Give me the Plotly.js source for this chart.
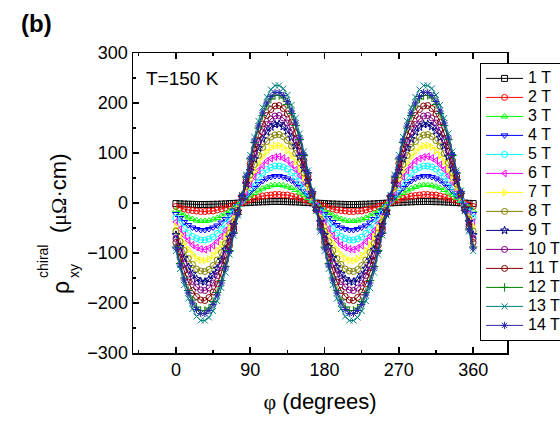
<!DOCTYPE html>
<html>
<head>
<meta charset="utf-8">
<script src="https://cdn.plot.ly/plotly-3.0.1.min.js"></script>
<style>html,body{margin:0;padding:0;background:#fff;}#chart{width:560px;height:425px;}</style>
</head>
<body>
<div id="chart"></div>
<script>
// angle phi in degrees
const phi = [0,5,10,15,20,25,30,35,40,45,50,55,60,65,70,75,80,85,90,95,100,105,110,115,120,125,130,135,140,145,150,155,160,165,170,175,180,185,190,195,200,205,210,215,220,225,230,235,240,245,250,255,260,265,270,275,280,285,290,295,300,305,310,315,320,325,330,335,340,345,350,355,360];

const seriesNames = ['1 T','2 T','3 T','4 T','5 T','6 T','7 T','8 T','9 T','10 T','11 T','12 T','13 T','14 T'];

const rho1T = [-1.2,-1.7,-2.1,-2.4,-2.7,-2.9,-3.0,-3.0,-2.9,-2.7,-2.5,-2.2,-1.8,-1.3,-0.8,-0.3,0.2,0.7,
1.2,1.7,2.1,2.4,2.7,2.9,3.0,3.0,2.9,2.7,2.5,2.2,1.8,1.3,0.8,0.3,-0.2,-0.7,
-1.2,-1.7,-2.1,-2.4,-2.7,-2.9,-3.0,-3.0,-2.9,-2.7,-2.5,-2.2,-1.8,-1.3,-0.8,-0.3,0.2,0.7,
1.2,1.7,2.1,2.4,2.7,2.9,3.0,3.0,2.9,2.7,2.5,2.2,1.8,1.3,0.8,0.3,-0.2,-0.7,-1.2];

const rho2T = [-7,-10,-12,-14,-15,-16,-17,-17,-16,-16,-14,-12,-10,-7,-5,-2,1,4,
7,10,12,14,15,16,17,17,16,16,14,12,10,7,5,2,-1,-4,
-7,-10,-12,-14,-15,-16,-17,-17,-16,-16,-14,-12,-10,-7,-5,-2,1,4,
7,10,12,14,15,16,17,17,16,16,14,12,10,7,5,2,-1,-4,-7];

const rho3T = [-15,-20,-25,-29,-32,-35,-36,-36,-35,-33,-30,-26,-21,-16,-10,-4,3,9,
15,20,25,29,32,35,36,36,35,33,30,26,21,16,10,4,-3,-9,
-15,-20,-25,-29,-32,-35,-36,-36,-35,-33,-30,-26,-21,-16,-10,-4,3,9,
15,20,25,29,32,35,36,36,35,33,30,26,21,16,10,4,-3,-9,-15];

const rho4T = [-22,-30,-38,-44,-49,-52,-54,-54,-52,-49,-45,-39,-32,-24,-15,-6,4,13,
22,30,38,44,49,52,54,54,52,49,45,39,32,24,15,6,-4,-13,
-22,-30,-38,-44,-49,-52,-54,-54,-52,-49,-45,-39,-32,-24,-15,-6,4,13,
22,30,38,44,49,52,54,54,52,49,45,39,32,24,15,6,-4,-13,-22];

const rho5T = [-30,-41,-51,-60,-67,-71,-74,-74,-72,-68,-61,-53,-43,-32,-20,-8,5,18,
30,41,51,60,67,71,74,74,72,68,61,53,43,32,20,8,-5,-18,
-30,-41,-51,-60,-67,-71,-74,-74,-72,-68,-61,-53,-43,-32,-20,-8,5,18,
30,41,51,60,67,71,74,74,72,68,61,53,43,32,20,8,-5,-18,-30];

const rho6T = [-38,-52,-65,-75,-84,-89,-92,-93,-90,-85,-77,-67,-55,-41,-26,-10,6,22,
38,52,65,75,84,89,92,93,90,85,77,67,55,41,26,10,-6,-22,
-38,-52,-65,-75,-84,-89,-92,-93,-90,-85,-77,-67,-55,-41,-26,-10,6,22,
38,52,65,75,84,89,92,93,90,85,77,67,55,41,26,10,-6,-22,-38];

const rho7T = [-47,-64,-80,-93,-103,-111,-114,-115,-112,-105,-95,-83,-68,-50,-32,-12,8,28,
47,64,80,93,103,111,114,115,112,105,95,83,68,50,32,12,-8,-28,
-47,-64,-80,-93,-103,-111,-114,-115,-112,-105,-95,-83,-68,-50,-32,-12,8,28,
47,64,80,93,103,111,114,115,112,105,95,83,68,50,32,12,-8,-28,-47];

const rho8T = [-56,-77,-95,-111,-123,-132,-136,-137,-133,-125,-114,-99,-81,-60,-38,-14,10,33,
56,77,95,111,123,132,136,137,133,125,114,99,81,60,38,14,-10,-33,
-56,-77,-95,-111,-123,-132,-136,-137,-133,-125,-114,-99,-81,-60,-38,-14,10,33,
56,77,95,111,123,132,136,137,133,125,114,99,81,60,38,14,-10,-33,-56];

const rho9T = [-64,-88,-110,-128,-142,-152,-157,-158,-153,-144,-131,-114,-93,-69,-44,-17,11,38,
64,88,110,128,142,152,157,158,153,144,131,114,93,69,44,17,-11,-38,
-64,-88,-110,-128,-142,-152,-157,-158,-153,-144,-131,-114,-93,-69,-44,-17,11,38,
64,88,110,128,142,152,157,158,153,144,131,114,93,69,44,17,-11,-38,-64];

const rho10T = [-71,-98,-122,-142,-157,-168,-174,-175,-170,-160,-145,-126,-103,-77,-48,-18,12,42,
71,98,122,142,157,168,174,175,170,160,145,126,103,77,48,18,-12,-42,
-71,-98,-122,-142,-157,-168,-174,-175,-170,-160,-145,-126,-103,-77,-48,-18,12,42,
71,98,122,142,157,168,174,175,170,160,145,126,103,77,48,18,-12,-42,-71];

const rho11T = [-79,-109,-135,-158,-175,-187,-194,-195,-189,-178,-162,-140,-115,-85,-54,-20,14,47,
79,109,135,158,175,187,194,195,189,178,162,140,115,85,54,20,-14,-47,
-79,-109,-135,-158,-175,-187,-194,-195,-189,-178,-162,-140,-115,-85,-54,-20,14,47,
79,109,135,158,175,187,194,195,189,178,162,140,115,85,54,20,-14,-47,-79];

const rho12T = [-88,-121,-150,-175,-194,-208,-215,-215,-210,-197,-179,-155,-127,-95,-60,-23,15,52,
88,121,150,175,194,208,215,215,210,197,179,155,127,95,60,23,-15,-52,
-88,-121,-150,-175,-194,-208,-215,-215,-210,-197,-179,-155,-127,-95,-60,-23,15,52,
88,121,150,175,194,208,215,215,210,197,179,155,127,95,60,23,-15,-52,-88];

const rho13T = [-96,-132,-164,-191,-212,-227,-235,-235,-229,-216,-196,-170,-139,-103,-65,-25,16,57,
96,132,164,191,212,227,235,235,229,216,196,170,139,103,65,25,-16,-57,
-96,-132,-164,-191,-212,-227,-235,-235,-229,-216,-196,-170,-139,-103,-65,-25,16,57,
96,132,164,191,212,227,235,235,229,216,196,170,139,103,65,25,-16,-57,-96];

const rho14T = [-90,-124,-154,-180,-200,-213,-221,-221,-215,-203,-184,-160,-130,-97,-61,-23,15,54,
90,124,154,180,200,213,221,221,215,203,184,160,130,97,61,23,-15,-54,
-90,-124,-154,-180,-200,-213,-221,-221,-215,-203,-184,-160,-130,-97,-61,-23,15,54,
90,124,154,180,200,213,221,221,215,203,184,160,130,97,61,23,-15,-54,-90];

const seriesValues = [rho1T,rho2T,rho3T,rho4T,rho5T,rho6T,rho7T,rho8T,rho9T,rho10T,rho11T,rho12T,rho13T,rho14T];

const colors = ['#000000','#ff0000','#00ff00','#0000ff','#00ffff','#ff00ff','#ffff00','#808000','#000080','#800080','#800000','#008000','#008080','#2a2aaa'];
const symbols = ['square-open','circle-open','triangle-up-open','triangle-down-open','circle-open','triangle-left-open','triangle-right-open','circle-open','star-open','circle-open','circle-open','cross-thin-open','x-thin-open','asterisk-open'];

const traces = seriesNames.map((n, i) => ({
  x: phi,
  y: seriesValues[i],
  type: 'scatter',
  mode: 'lines+markers',
  name: '<span style="font-size:16px">' + n + '</span>',
  line: {color: colors[i], width: 1},
  marker: {symbol: symbols[i], size: 6, color: colors[i], line: {color: colors[i], width: 1}}
}));

const fontFam = 'Arial, "Liberation Sans", sans-serif';
const serif = "'Liberation Serif', 'DejaVu Serif', serif";

// plot area in pixels: left 133, right 507, top 53, bottom 353
const px = v => (v - 133) / 374;
const py = v => (353 - v) / 300;

const layout = {
  width: 560, height: 425,
  margin: {l: 133, r: 53, t: 53, b: 72, autoexpand: false},
  paper_bgcolor: '#fff', plot_bgcolor: '#fff',
  font: {family: fontFam, color: '#000', size: 18},
  showlegend: true,
  legend: {
    x: 0.928, y: 0.967, xanchor: 'left', yanchor: 'top',
    bgcolor: '#fff', bordercolor: '#000', borderwidth: 1,
    font: {family: fontFam, size: 12, color: '#000'},
    itemwidth: 37,
    tracegroupgap: 0
  },
  xaxis: {
    range: [-52, 401], tick0: 0, dtick: 90,
    ticks: 'inside', ticklen: 6, tickwidth: 1.5, tickcolor: '#000',
    showline: true, linecolor: '#000', linewidth: 1.5, mirror: 'ticks',
    showgrid: false, zeroline: false,
    minor: {ticks: 'inside', dtick: 45, tick0: 0, ticklen: 3, tickwidth: 1.2, tickcolor: '#000', showgrid: false},
    tickfont: {size: 18},
    title: {text: '<span style="font-family:' + serif + '">φ</span> (degrees)', font: {size: 22}, standoff: 14}
  },
  yaxis: {
    range: [-300, 300], tick0: 0, dtick: 100,
    ticks: 'inside', ticklen: 6, tickwidth: 1.5, tickcolor: '#000',
    showline: true, linecolor: '#000', linewidth: 1.5, mirror: 'ticks',
    showgrid: false, zeroline: false,
    minor: {ticks: 'inside', dtick: 50, tick0: 0, ticklen: 3, tickwidth: 1.2, tickcolor: '#000', showgrid: false},
    tickfont: {size: 18}
  },
  annotations: [
    {text: '<b>(b)</b>', xref: 'paper', yref: 'paper', x: px(19), y: py(24), xanchor: 'left', yanchor: 'middle', showarrow: false, font: {size: 24, family: fontFam}},
    {text: 'T=150 K', xref: 'paper', yref: 'paper', x: px(144), y: py(78), xanchor: 'left', yanchor: 'middle', showarrow: false, font: {size: 19, family: fontFam}},
    // y-axis title: rho with stacked sub/superscript, then unit
    {text: 'ρ', xref: 'paper', yref: 'paper', x: px(61), y: py(288), xanchor: 'center', yanchor: 'middle', textangle: -90, showarrow: false, font: {size: 23, family: fontFam}},
    {text: 'xy', xref: 'paper', yref: 'paper', x: px(74), y: py(271), xanchor: 'center', yanchor: 'middle', textangle: -90, showarrow: false, font: {size: 14, family: fontFam}},
    {text: 'chiral', xref: 'paper', yref: 'paper', x: px(43), y: py(262), xanchor: 'center', yanchor: 'middle', textangle: -90, showarrow: false, font: {size: 14, family: fontFam}},
    {text: '(<span style="font-family:' + serif + '">μΩ</span>·cm)', xref: 'paper', yref: 'paper', x: px(58), y: py(194), xanchor: 'center', yanchor: 'middle', textangle: -90, showarrow: false, font: {size: 22, family: fontFam}}
  ]
};

Plotly.newPlot('chart', traces, layout, {displayModeBar: false, staticPlot: true});
</script>
</body>
</html>
